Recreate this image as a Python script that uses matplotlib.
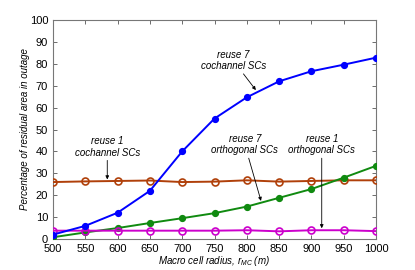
import matplotlib
matplotlib.use("Agg")
import matplotlib.pyplot as plt

radius = [500, 550, 600, 650, 700, 750, 800, 850, 900, 950, 1000]
reuse7_cochannel = [2, 6, 12, 22, 40, 55, 64.7, 72, 76.6, 79.6, 82.8]
reuse1_cochannel = [26, 26.3, 26.5, 26.7, 26, 26.2, 26.8, 26.2, 26.5, 26.8, 26.8]
reuse7_orthogonal = [0.8, 3, 5, 7.3, 9.5, 11.8, 14.8, 18.8, 22.8, 28, 33.4]
reuse1_orthogonal = [3.8, 3.8, 3.8, 3.8, 3.8, 3.8, 4.0, 3.5, 4.0, 4.0, 3.6]

plt.rcParams['font.family'] = ['Liberation Sans', 'DejaVu Sans']
plt.rcParams['mathtext.fontset'] = 'custom'
plt.rcParams['mathtext.it'] = 'Liberation Sans:italic'
plt.rcParams['mathtext.rm'] = 'Liberation Sans'

fig = plt.figure(figsize=(4.15, 2.7), dpi=100)
ax = fig.add_axes([53/415, 1-239/270, (376-53)/415, (239-20)/270])

lw = 1.4
ax.plot(radius, reuse7_cochannel, '-o', color='#0000ff', lw=lw, ms=4.2, mfc='#0000ff', mec='#0000ff', zorder=4)
ax.plot(radius, reuse1_cochannel, '-o', color='#b0400a', lw=lw, ms=5, mfc='none', mec='#b0400a', mew=1.2, zorder=3)
ax.plot(radius, reuse7_orthogonal, '-o', color='#108a10', lw=lw, ms=4.2, mfc='#108a10', mec='#108a10', zorder=3)
ax.plot(radius, reuse1_orthogonal, '-o', color='#cc00cc', lw=lw, ms=5, mfc='none', mec='#cc00cc', mew=1.2, zorder=3)

ax.set_xlim(500, 1000)
ax.set_ylim(0, 100)
ax.set_xticks(range(500, 1001, 50))
ax.set_yticks(range(0, 101, 10))
ax.tick_params(direction='in', top=True, right=True, labelsize=8, length=3, width=0.6, pad=3.5, color='#555555')
for s in ax.spines.values():
    s.set_color('#777777')
    s.set_linewidth(0.8)

ax.set_xlabel(r'Macro cell radius, $r_{MC}$ (m)', fontsize=7, style='italic', labelpad=0)
ax.set_ylabel('Percentage of residual area in outage', fontsize=7, style='italic', labelpad=0)

ann = dict(fontsize=7, style='italic', ha='center', va='center', linespacing=1.15)
arr = dict(arrowstyle='-|>', color='black', lw=0.6, mutation_scale=5, shrinkA=0, shrinkB=0)
ax.annotate('reuse 7\ncochannel SCs', xy=(814, 68), xytext=(779, 81.5), arrowprops=arr, **ann)
ax.annotate('reuse 1\ncochannel SCs', xy=(584, 27.2), xytext=(584, 42), arrowprops=arr, **ann)
ax.annotate('reuse 7\northogonal SCs', xy=(822, 17.4), xytext=(797, 43), arrowprops=arr, **ann)
ax.annotate('reuse 1\northogonal SCs', xy=(916, 4.9), xytext=(916, 43), arrowprops=arr, **ann)

fig.savefig('out.png', dpi=100)
